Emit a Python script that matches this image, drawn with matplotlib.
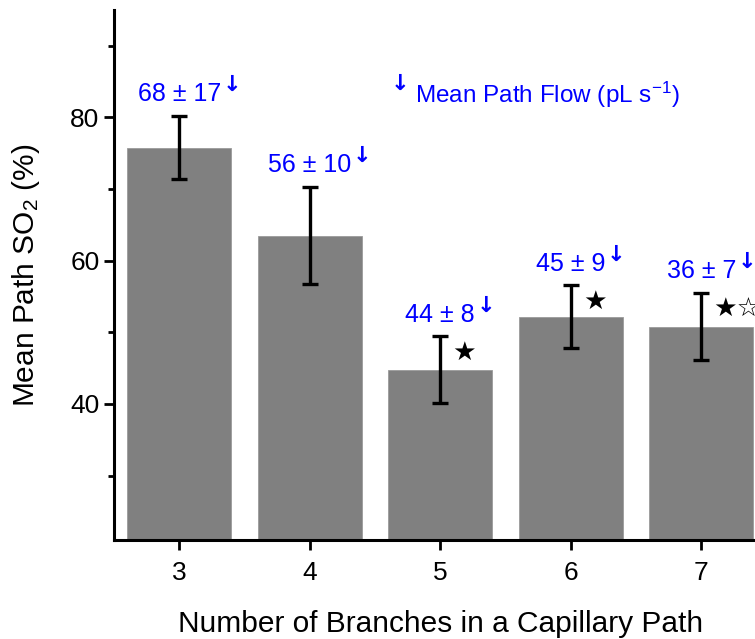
import matplotlib
matplotlib.use("Agg")
import matplotlib.pyplot as plt
from matplotlib.ticker import FixedLocator
from matplotlib.transforms import IdentityTransform

# ---- data ----
branches = [3, 4, 5, 6, 7]
so2_mean = [75.8, 63.5, 44.8, 52.2, 50.8]
so2_err = [4.4, 6.8, 4.65, 4.35, 4.7]
flow_labels = ["68 \u00b1 17", "56 \u00b1 10", "44 \u00b1 8", "45 \u00b1 9", "36 \u00b1 7"]
sig_marks = ["", "", "\u2605", "\u2605", "\u2605\u2606"]

plt.rcParams['font.family'] = ['Liberation Sans', 'DejaVu Sans']
plt.rcParams['mathtext.fontset'] = 'custom'
plt.rcParams['mathtext.rm'] = 'Liberation Sans'
plt.rcParams['mathtext.it'] = 'Liberation Sans:italic'

W, H, DPI = 755, 639, 100
fig = plt.figure(figsize=(W / DPI, H / DPI), dpi=DPI)
left, right, bottom, top = 114, 766.5, 540, 10
ax = fig.add_axes([left / W, 1 - bottom / H, (right - left) / W, (bottom - top) / H])

blue = '#0000FF'
ax.bar(branches, so2_mean, width=0.8, color='#808080', edgecolor='#9a9a9a', linewidth=0.6, zorder=2)
ax.errorbar(branches, so2_mean, yerr=so2_err, fmt='none', ecolor='black',
            elinewidth=2.4, capsize=5.5, capthick=2.4, zorder=3)

for x, m, e, lab, sig in zip(branches, so2_mean, so2_err, flow_labels, sig_marks):
    t = ax.annotate(lab, xy=(x, m + e), xytext=(0, 7), textcoords='offset points',
                    ha='center', va='bottom', color=blue, fontsize=18)
    ax.annotate('\u2193', xy=(1, 1), xycoords=t, xytext=(1, 5), textcoords='offset points',
                ha='left', va='top', color=blue, fontsize=16, fontweight='bold',
                family='DejaVu Sans')
    if sig:
        ax.annotate(sig, xy=(x, m + e), xytext=(9, -12), textcoords='offset points',
                    ha='left', va='center', color='black', fontsize=19, family='DejaVu Sans')

leg = ax.text(0, 0, r"Mean Path Flow (pL s$^{\mathregular{-1}}$)",
              color=blue, fontsize=17.5, ha='left', va='baseline')
leg.set_transform(IdentityTransform())
leg.set_position((415, H - 103))
ax.annotate('\u2193', xy=(0, 1), xycoords=leg, xytext=(-4, 4), textcoords='offset points',
            ha='right', va='top', color=blue, fontsize=16, fontweight='bold', family='DejaVu Sans')

ax.set_xlim(2.5, 7.5)
ax.set_ylim(21, 95)
ax.set_xticks(branches)
ax.yaxis.set_major_locator(FixedLocator([40, 60, 80]))
ax.yaxis.set_minor_locator(FixedLocator([30, 50, 70, 90]))
ax.tick_params(axis='both', which='major', length=7, width=2, labelsize=19, direction='out')
ax.tick_params(axis='y', which='minor', length=4, width=2, direction='out')
ax.tick_params(axis='x', which='major', pad=8)
ax.spines['top'].set_visible(False)
ax.spines['right'].set_visible(False)
ax.spines['left'].set_linewidth(2.2)
ax.spines['bottom'].set_linewidth(2.2)

ax.set_xlabel("Number of Branches in a Capillary Path", fontsize=21.5, labelpad=18)
ax.set_ylabel(r"Mean Path SO$_{\mathregular{2}}$ $\mathit{(\%)}$", fontsize=21.5)
ax.yaxis.set_label_coords(-0.11, 0.5)

fig.savefig("out.png", dpi=DPI)
